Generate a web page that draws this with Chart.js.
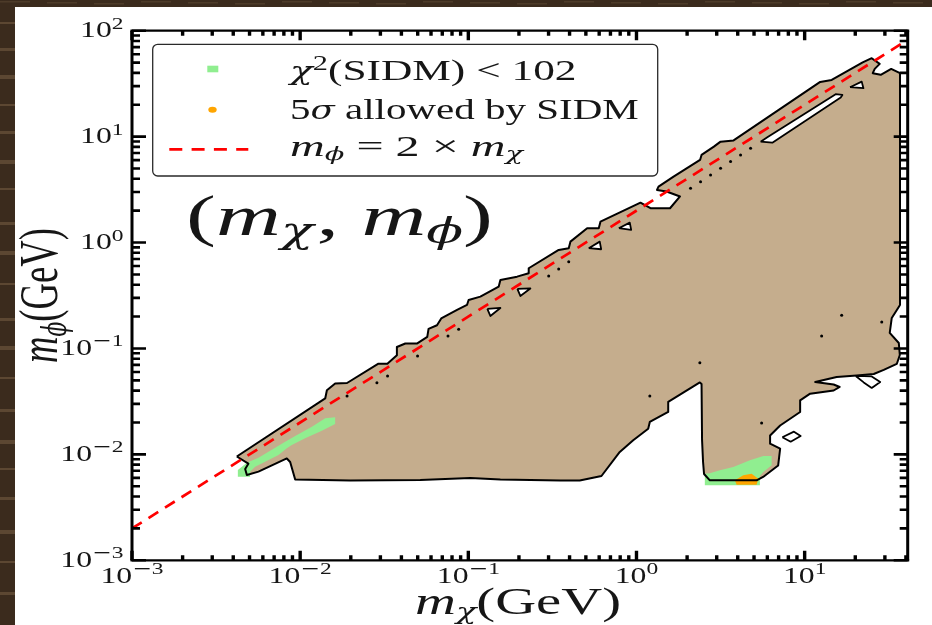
<!DOCTYPE html>
<html><head><meta charset="utf-8">
<script src="https://cdn.jsdelivr.net/npm/chart.js@4.4.1/dist/chart.umd.min.js"></script>
<style>html,body{margin:0;padding:0;background:#3b2b1d;}canvas{display:block;}</style>
</head><body>
<canvas id="c" width="932" height="625"></canvas>
<script>
// ---------------- data ----------------
// region allowed by the constraints (closed contour, GeV)
const allowedX = [0.0042,0.01409,0.01442,0.01615,0.0190,0.0292,0.0330,0.0376,0.0376,0.0422,
  0.0497,0.0570,0.0580,0.0651,0.0690,0.0857,0.0982,0.1004,0.1179,0.1515,
  0.1551,0.1949,0.2286,0.2286,0.3446,0.3954,0.4047,0.5087,0.5965,0.6106,
  1.056,1.211,1.583,1.815,1.509,1.324,1.352,1.661,2.388,2.437,
  2.885,3.162,3.779,12.37,14.48,22.14,25.05,27.95,26.11,25.40,
  28.34,32.7,36.9,36.9,32.96,32.06,36.3,36.8,35.3,29.53,
  25.75,20.4,15.5,11.55,14.88,16.16,14.88,10.78,9.40,9.40,
  7.15,6.23,6.23,7.15,6.955,5.662,5.18,2.731,2.522,2.488,
  2.454,2.437,2.381,1.544,1.544,1.200,1.174,0.956,0.7955,0.619,
  0.4597,0.3529,0.1551,0.1028,0.0518,0.01984,0.00934,0.00872,0.00833,0.00565,
  0.00482,0.00471,0.00492];
const allowedY = [0.00955,0.03373,0.0403,0.0467,0.0472,0.0719,0.0719,0.0863,0.1033,0.1115,
  0.1115,0.1284,0.1528,0.1656,0.1920,0.2310,0.2575,0.2871,0.3084,0.3835,
  0.4434,0.4764,0.5129,0.5719,0.8514,0.8837,1.020,1.365,1.365,1.575,
  2.381,2.108,2.108,2.724,3.037,3.138,3.372,4.191,6.026,6.717,
  8.047,8.968,9.21,32.85,34.3,50.2,55.0,48.6,43.6,39.7,
  38.3,43.6,39.7,0.2575,0.1941,0.1401,0.1127,0.0868,0.0714,0.0627,
  0.0574,0.0556,0.0538,0.0483,0.0457,0.0433,0.0401,0.0374,0.0323,0.02515,
  0.01875,0.01509,0.01262,0.01132,0.00785,0.00612,0.00569,0.00569,0.00653,0.00848,
  0.01368,0.0462,0.0478,0.03125,0.02515,0.02023,0.01748,0.01358,0.01054,0.00625,
  0.00567,0.00567,0.00579,0.00598,0.00573,0.00567,0.00579,0.00848,0.00915,0.00687,
  0.00639,0.00728,0.00817];

// holes / islands of the contour
const hole1X = [0.1297,0.1551,0.1352], hole1Y = [0.236,0.2412,0.2027];
const hole2X = [0.1957,0.2339,0.2039], hole2Y = [0.3646,0.3687,0.3132];
const hole3X = [0.5201,0.6165,0.6046], hole3Y = [0.8837,0.8642,1.020];
const hole4X = [0.7845,0.930,0.912],   hole4Y = [1.365,1.315,1.541];
const hole5X = [18.61,22.36,21.84],    hole5Y = [29.28,28.65,33.06];
const slitX = [5.471,5.998,15.29,16.76,16.38,6.424], slitY = [8.968,9.87,25.14,24.76,23.35,8.774];
const diamondX = [7.366,8.638,9.467,8.256], diamondY = [0.01451,0.01639,0.01492,0.01318];
const loopX = [20.12,25.05,28.14,25.05,22.45], loopY = [0.0550,0.0544,0.0483,0.0424,0.0478];
const islandX = [0.0190,0.0286,0.0331,0.0499,0.0757,0.0876,0.3006,0.3446,0.3954,2.096,2.404,2.757,3.162,3.626,4.159,4.77,16.6,28.73,12.62,2.381,1.200,5.546];
const islandY = [0.0356,0.0475,0.0550,0.0850,0.1312,0.1518,0.4838,0.5632,0.6602,3.255,3.759,4.349,5.029,5.808,6.717,7.77,0.2058,0.178,0.1312,0.0734,0.0356,0.0198];

// chi^2(SIDM) < 102 regions
const chiLowX = [0.00426,0.00482,0.00565,0.00648,0.00796,0.00934,0.01174,0.01409,0.01615,0.01615,0.01346,0.01071,0.00892,0.00833,0.00743,0.00619,0.0054,0.00504,0.00504,0.00426];
const chiLowY = [0.00712,0.00835,0.00931,0.0106,0.0129,0.01492,0.01827,0.02193,0.02241,0.01937,0.01674,0.01419,0.01227,0.01142,0.00987,0.00853,0.00765,0.00687,0.00616,0.00616];
const chiHighX = [2.549,2.731,3.131,3.764,4.725,5.678,6.363,6.363,5.678,5.418,5.418,2.549];
const chiHighY = [0.00657,0.00663,0.00708,0.0076,0.0088,0.00966,0.00966,0.00789,0.00682,0.00625,0.00511,0.00511];
// 5 sigma allowed by SIDM
const sigmaX = [3.847,4.316,4.835,5.301,5.18,3.937];
const sigmaY = [0.00569,0.00635,0.00657,0.0059,0.00518,0.00518];
// m_phi = 2 m_chi
const lineX = [0.001, 41];
const lineY = [0.002, 82];

// axes
const xRange = [0.001, 41];
const yRange = [0.001, 100];
const xTickValues = [0.001, 0.01, 0.1, 1, 10];
const xTickSups = ['\u22123', '\u22122', '\u22121', '0', '1'];
const yTickValues = [0.001, 0.01, 0.1, 1, 10, 100];
const yTickSups = ['\u22123', '\u22122', '\u22121', '0', '1', '2'];
const minorMultipliers = [2, 3, 4, 5, 6, 7, 8, 9];

// styles
const BROWN = '#c5ad8d', GREEN = '#90ee90', ORANGE = '#ffa500', RED = '#ff0000';
const FONT = '"Liberation Serif","DejaVu Serif",serif';
const GFONT = '"DejaVu Serif","Liberation Serif",serif';
const fnt = (px, it) => (it ? 'italic ' : '') + px + 'px ' + FONT;
const gk = (px) => 'italic ' + px + 'px ' + GFONT;

const pts = (xs, ys, close) => {
  const a = xs.map((x, i) => ({x, y: ys[i]}));
  if (close) a.push({x: xs[0], y: ys[0]});
  return a;
};
const poly = (xs, ys, bg, order, border) => ({
  data: pts(xs, ys, true), fill: 'shape', backgroundColor: bg,
  borderColor: border ? '#000' : 'rgba(0,0,0,0)', borderWidth: border ? 1.8 : 0,
  pointRadius: 0, tension: 0, order, borderJoinStyle: 'round'
});

// ---------------- text helpers ----------------
function measure(ctx, segs) {
  let w = 0;
  for (const s of segs) { ctx.font = s.f; s.w = ctx.measureText(s.t).width + (s.sp || 0); w += s.w; }
  return w;
}
function drawSegs(ctx, segs) {
  let cx = 0;
  for (const s of segs) { ctx.font = s.f; ctx.fillText(s.t, cx, s.dy || 0); cx += s.w; }
}
function fitText(ctx, segs, x0, x1, y) {
  const w = measure(ctx, segs);
  ctx.save(); ctx.translate(x0, y); ctx.scale((x1 - x0) / w, 1); drawSegs(ctx, segs); ctx.restore();
}
function tickSegs(sup) {
  const segs = [{t: '10', f: fnt(23)}];
  if (sup[0] === '\u2212') {
    segs.push({t: '\u2212', f: '17px "DejaVu Serif",serif', dy: -8.5});
    segs.push({t: sup.slice(1), f: fnt(17), dy: -8.5});
  } else segs.push({t: sup, f: fnt(17), dy: -8.5});
  return segs;
}

const woodStreaks = [22, 48, 75, 104, 131, 160, 188, 222, 251, 283, 318, 346, 377, 409, 440, 468, 497, 530, 561, 592];

const decorPlugin = {
  id: 'decor',
  beforeDraw(chart) {
    const c = chart.ctx;
    c.save();
    c.fillStyle = '#3b2b1d'; c.fillRect(0, 0, chart.width, chart.height);
    c.fillStyle = 'rgba(120,95,68,0.55)';
    woodStreaks.forEach((y, i) => c.fillRect(0, y, 15, 2 + (i % 3)));
    c.fillStyle = 'rgba(90,70,50,0.6)';
    woodStreaks.forEach((y, i) => c.fillRect(i * 47, 1 + (i % 3), 30, 1.5));
    c.fillStyle = '#ffffff'; c.fillRect(15, 7, chart.width - 15, chart.height - 7);
    c.restore();
  },
  afterDraw(chart) {
    const c = chart.ctx, a = chart.chartArea, xs = chart.scales.x, ys = chart.scales.y;
    const L = a.left, R = a.right, T = a.top, B = a.bottom;
    c.save();
    c.strokeStyle = '#000';
    // ticks
    const xMinor = [], yMinor = [];
    xTickValues.forEach(v => minorMultipliers.forEach(m => { if (v * m < xRange[1]) xMinor.push(v * m); }));
    yTickValues.forEach(v => minorMultipliers.forEach(m => { if (v * m < yRange[1]) yMinor.push(v * m); }));
    c.lineWidth = 3.4;
    const vt = (v, len) => { const p = xs.getPixelForValue(v); c.beginPath(); c.moveTo(p, B); c.lineTo(p, B - len); c.moveTo(p, T); c.lineTo(p, T + len); c.stroke(); };
    xMinor.forEach(v => vt(v, 5)); xTickValues.forEach(v => vt(v, 9.5));
    c.lineWidth = 2.6;
    const ht = (v, len) => { const p = ys.getPixelForValue(v); c.beginPath(); c.moveTo(L, p); c.lineTo(L + len, p); c.moveTo(R, p); c.lineTo(R - len, p); c.stroke(); };
    yMinor.forEach(v => ht(v, 8)); yTickValues.forEach(v => ht(v, 14));
    // spines
    c.lineWidth = 2.2;
    c.beginPath(); c.moveTo(L - 1.5, T); c.lineTo(R + 1.5, T); c.moveTo(L - 1.5, B); c.lineTo(R + 1.5, B); c.stroke();
    c.lineWidth = 3;
    c.beginPath(); c.moveTo(L, T); c.lineTo(L, B); c.moveTo(R, T); c.lineTo(R, B); c.stroke();

    // tick labels
    c.fillStyle = '#161616'; c.textBaseline = 'alphabetic'; c.textAlign = 'left';
    const SX = 1.38;
    xTickValues.forEach((v, i) => {
      const segs = tickSegs(xTickSups[i]); const w = measure(c, segs) * SX;
      const p = xs.getPixelForValue(v);
      c.save(); c.translate(p - w / 2, 582.7); c.scale(SX, 1); drawSegs(c, segs); c.restore();
    });
    yTickValues.forEach((v, i) => {
      const segs = tickSegs(yTickSups[i]); const w = measure(c, segs) * SX;
      const p = ys.getPixelForValue(v);
      c.save(); c.translate(123.5 - w, p + 6.5); c.scale(SX, 1); drawSegs(c, segs); c.restore();
    });

    // axis titles
    fitText(c, [{t: 'm', f: fnt(37, true)}, {t: '\u03c7', f: gk(22), dy: 5}, {t: '(GeV)', f: fnt(37)}], 415, 621, 613.7);
    {
      const segs = [{t: 'm', f: fnt(37, true)}, {t: '\u03d5', f: gk(22), dy: 6}, {t: '(GeV)', f: fnt(37)}];
      const w = measure(c, segs);
      c.save(); c.translate(57, 363); c.scale(1.5, 135 / w); c.rotate(-Math.PI / 2); drawSegs(c, segs); c.restore();
    }

    // panel label
    fitText(c, [{t: '(', f: fnt(58)}, {t: 'm', f: fnt(58, true)}, {t: '\u03c7', f: gk(35), dy: 8, sp: 2},
      {t: ', ', f: fnt(58)}, {t: 'm', f: fnt(58, true)}, {t: '\u03d5', f: gk(35), dy: 8}, {t: ')', f: fnt(58)}], 186, 493, 235);

    // legend
    c.beginPath();
    c.roundRect(152.7, 44.3, 505, 131.7, 5);
    c.fillStyle = 'rgba(255,255,255,0.9)'; c.fill();
    c.lineWidth = 1.3; c.strokeStyle = '#2a2a2a'; c.stroke();
    c.fillStyle = GREEN; c.fillRect(207.3, 65.7, 11, 6.6);
    c.fillStyle = ORANGE; c.beginPath(); c.ellipse(212.5, 109.7, 4.2, 3, 0, 0, Math.PI * 2); c.fill();
    c.strokeStyle = RED; c.lineWidth = 2.7; c.setLineDash([13, 9.3]);
    c.beginPath(); c.moveTo(169.3, 149.3); c.lineTo(248.3, 149.3); c.stroke(); c.setLineDash([]);
    c.fillStyle = '#161616';
    fitText(c, [{t: '\u03c7', f: gk(26)}, {t: '2', f: fnt(21), dy: -10}, {t: '(SIDM) < 102', f: fnt(30)}], 290, 576.5, 80);
    fitText(c, [{t: '5', f: fnt(30)}, {t: '\u03c3', f: gk(26)}, {t: ' allowed by SIDM', f: fnt(30)}], 290, 638.7, 118.5);
    fitText(c, [{t: 'm', f: fnt(30, true)}, {t: '\u03d5', f: gk(18), dy: 4.5}, {t: ' = 2 \u00d7 ', f: fnt(30)},
      {t: 'm', f: fnt(30, true)}, {t: '\u03c7', f: gk(18), dy: 4.5}], 290, 523, 155.5);
    c.restore();
  }
};

new Chart(document.getElementById('c'), {
  type: 'line',
  data: {
    datasets: [
      {label: 'm_phi = 2 m_chi', data: pts(lineX, lineY), borderColor: RED, borderWidth: 2.7, borderDash: [11.5, 8],
        pointRadius: 0, fill: false, order: 1},
      {label: 'islands', data: pts(islandX, islandY), showLine: false, pointRadius: 1.5, pointBackgroundColor: '#000',
        pointBorderWidth: 0, order: 5},
      poly(hole1X, hole1Y, '#fff', 6, true),
      poly(hole2X, hole2Y, '#fff', 6, true),
      poly(hole3X, hole3Y, '#fff', 6, true),
      poly(hole4X, hole4Y, '#fff', 6, true),
      poly(hole5X, hole5Y, '#fff', 6, true),
      poly(slitX, slitY, '#fff', 6, true),
      poly(diamondX, diamondY, '#fff', 6, true),
      poly(loopX, loopY, '#fff', 6, true),
      {label: 'contour', data: pts(allowedX, allowedY, true), fill: false, borderColor: '#000', borderWidth: 2,
        pointRadius: 0, tension: 0, order: 7, borderJoinStyle: 'round'},
      poly(sigmaX, sigmaY, ORANGE, 8, false),
      poly(chiLowX, chiLowY, GREEN, 9, false),
      poly(chiHighX, chiHighY, GREEN, 9, false),
      poly(allowedX, allowedY, BROWN, 10, false)
    ]
  },
  options: {
    responsive: false, animation: false, devicePixelRatio: 1,
    layout: {padding: {left: 0, top: 30.7, right: 24.3, bottom: 0}},
    scales: {
      x: {type: 'logarithmic', min: xRange[0], max: xRange[1], position: 'bottom',
        grid: {display: false}, border: {display: false}, ticks: {display: false},
        afterFit: s => { s.height = 64.7; }},
      y: {type: 'logarithmic', min: yRange[0], max: yRange[1], position: 'left',
        grid: {display: false}, border: {display: false}, ticks: {display: false},
        afterFit: s => { s.width = 132; }}
    },
    plugins: {legend: {display: false}, tooltip: {enabled: false}}
  },
  plugins: [decorPlugin]
});
</script>
</body></html>
